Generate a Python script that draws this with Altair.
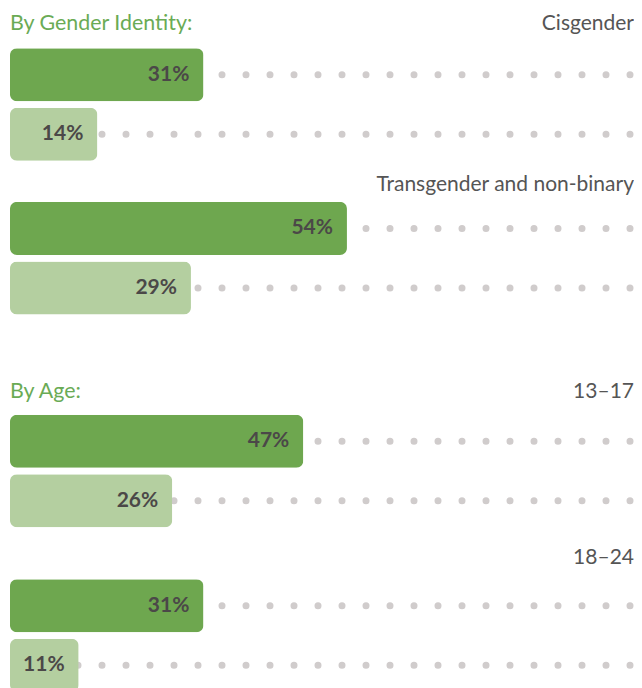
import altair as alt
import pandas as pd

# ---- data -------------------------------------------------------------
group_headers = ["By Gender Identity:", "", "By Age:", ""]
categories = ["Cisgender", "Transgender and non-binary", "13–17", "18–24"]
series = ["Measure 1", "Measure 2"]
values_1 = [31, 54, 47, 31]
values_2 = [14, 29, 26, 11]

rows = []
for hdr, cat, v1, v2 in zip(group_headers, categories, values_1, values_2):
    rows.append({"header": hdr, "category": cat, "series": series[0], "value": v1})
    rows.append({"header": hdr, "category": cat, "series": series[1], "value": v2})
df = pd.DataFrame(rows)

# ---- layout / style constants -------------------------------------------
PLOT_W = 624
BAR_BLOCK = 112.5
# (space above the bars, label baseline) for each panel
LAYOUT = [(40.3, 22.0), (40.9, 30.2), (99.8, 82.8), (51.2, 36.2)]
DOT_START = 20 / PLOT_W * 100
DOT_END = 620 / PLOT_W * 100

DARK = "#6ea74f"
LIGHT = "#b4cfa0"
DOT = "#d0cccc"
VALUE_TXT = "#4b4848"
LABEL_TXT = "#555555"
HEADER_TXT = "#6aab55"
FONT = "Lato"
FS_VAL = 21
FS_LAB = 21
FS_HDR = 21.4

x_scale = alt.Scale(domain=[0, 100])


def panel(i):
    cat = categories[i]
    top, label_y = LAYOUT[i]
    h = top + BAR_BLOCK
    base = alt.Chart(df).transform_filter(alt.datum.category == cat)
    y = alt.Y(
        "series:N",
        scale=alt.Scale(domain=series, range=[top, h], paddingInner=0.109, paddingOuter=0),
        axis=None,
    )
    dots = base.mark_rule(
        strokeWidth=7, strokeCap="round", strokeDash=[0.01, 23.99], color=DOT
    ).encode(
        x=alt.XDatum(DOT_START, scale=x_scale, axis=None),
        x2=alt.X2Datum(DOT_END + 0.01),
        y=y,
    )
    bars = base.mark_bar(cornerRadius=7).encode(
        x=alt.X("value:Q", scale=x_scale, axis=None),
        y=y,
        color=alt.Color("series:N", scale=alt.Scale(domain=series, range=[DARK, LIGHT]), legend=None),
    )
    vals = base.transform_calculate(label="datum.value + '%'").mark_text(
        align="right", baseline="middle", dx=-14, font=FONT, fontWeight="bold",
        fontSize=FS_VAL, color=VALUE_TXT,
    ).encode(
        x=alt.X("value:Q", scale=x_scale, axis=None),
        y=y,
        text="label:N",
    )
    first = base.transform_filter(alt.datum.series == series[0])
    lab = first.mark_text(
        align="right", baseline="alphabetic", font=FONT, fontSize=FS_LAB, color=LABEL_TXT,
    ).encode(
        x=alt.XDatum(100, scale=x_scale, axis=None),
        y=alt.value(label_y),
        text="category:N",
    )
    layers = [dots, bars, vals, lab]
    if group_headers[i]:
        hdr = first.mark_text(
            align="left", baseline="alphabetic", font=FONT, fontSize=FS_HDR, color=HEADER_TXT,
        ).encode(
            x=alt.XDatum(0, scale=x_scale, axis=None),
            y=alt.value(label_y),
            text="header:N",
        )
        layers.append(hdr)
    return alt.layer(*layers).properties(width=PLOT_W, height=h)


chart = (
    alt.vconcat(*[panel(i) for i in range(4)], spacing=0, bounds="flush")
    .properties(padding={"left": 2, "top": 0, "right": 0, "bottom": 0})
    .configure_view(strokeWidth=0)
)

chart.save("out.html", embed_options={"renderer": "svg", "actions": False})
